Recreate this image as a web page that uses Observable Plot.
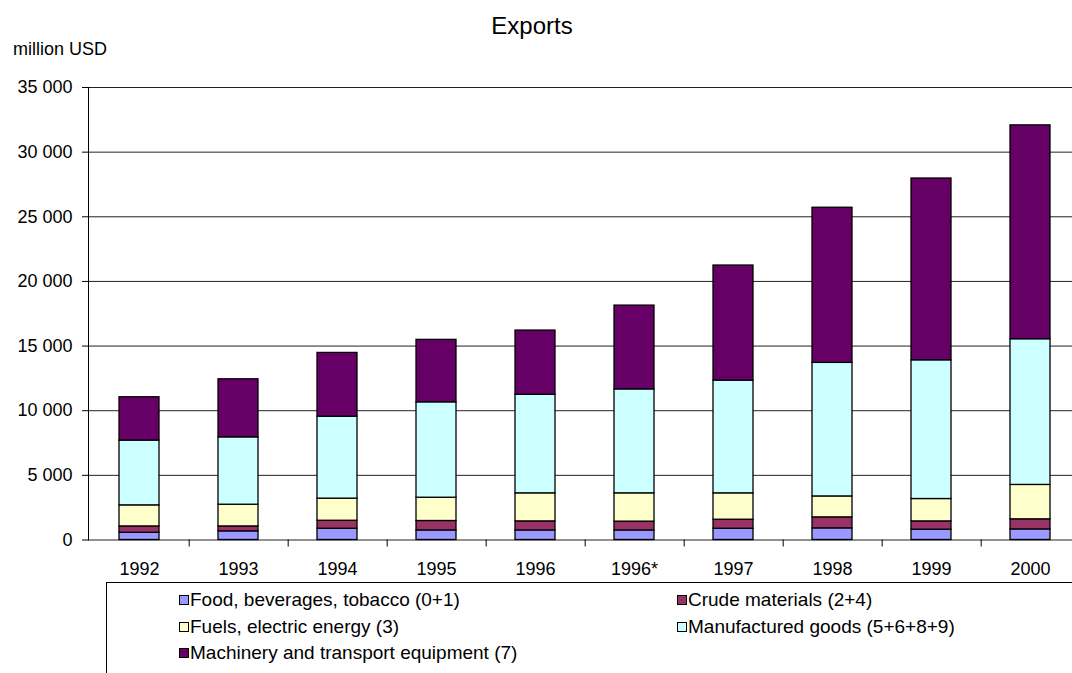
<!DOCTYPE html>
<html>
<head>
<meta charset="utf-8">
<script src="https://cdn.jsdelivr.net/npm/d3@7"></script>
<script src="https://cdn.jsdelivr.net/npm/@observablehq/plot@0.6"></script>
<style>
  body { margin: 0; background: white; }
  #wrap { position: relative; width: 1072px; height: 673px; overflow: hidden; font-family: "Liberation Sans", Arial, sans-serif; color: #000; }
  #chart { position: absolute; left: 0; top: 0; }
  #title { position: absolute; left: 432px; width: 200px; top: 12px; text-align: center; font-size: 24px; line-height: 28px; }
  #unit { position: absolute; left: 13px; top: 38px; font-size: 18px; line-height: 22px; }
  #legend { position: absolute; left: 106px; top: 582px; width: 1100px; height: 200px; border: 1px solid #000; box-sizing: border-box; }
  .item { position: absolute; font-size: 19px; line-height: 22px; white-space: nowrap; }
  .sw { position: absolute; width: 8px; height: 8px; border: 1px solid #000; top: 6px; left: -11px; }
</style>
</head>
<body>
<div id="wrap">
  <div id="chart"></div>
  <div id="title">Exports</div>
  <div id="unit">million USD</div>
  <div id="legend"></div>
</div>
<script>
const years = ["1992","1993","1994","1995","1996","1996*","1997","1998","1999","2000"];
const seriesNames = [
  "Food, beverages, tobacco (0+1)",
  "Crude materials (2+4)",
  "Fuels, electric energy (3)",
  "Manufactured goods (5+6+8+9)",
  "Machinery and transport equipment (7)"
];
const seriesColors = ["#9999FF", "#993366", "#FFFFCC", "#CCFFFF", "#660066"];
const food  = [560, 670, 870, 740, 740, 740, 870, 900, 800, 820];
const crude = [490, 380, 620, 730, 700, 680, 700, 850, 640, 780];
const fuel  = [1630, 1680, 1710, 1800, 2170, 2190, 2040, 1620, 1730, 2660];
const manuf = [5010, 5210, 6340, 7380, 7620, 8040, 8720, 10330, 10730, 11270];
const mach  = [3350, 4490, 4930, 4830, 4970, 6480, 8900, 12000, 14060, 16540];
const yTicks = [0, 5000, 10000, 15000, 20000, 25000, 30000, 35000];

const seriesValues = [food, crude, fuel, manuf, mach];
const data = [];
years.forEach((yr, i) => {
  seriesNames.forEach((s, j) => data.push({year: yr, series: s, value: seriesValues[j][i]}));
});

const xLeft = 88, xRight = 1081.5;
const step = (xRight - xLeft) / years.length;
const fmt = d => d3.format(",")(d).replace(/,/g, " ");

const chart = Plot.plot({
  width: 1072,
  height: 580,
  marginLeft: 88,
  marginRight: 0,
  marginTop: 87,
  marginBottom: 40.5,
  style: {fontFamily: "'Liberation Sans', Arial, sans-serif", fontSize: "18px", color: "#000", background: "transparent", overflow: "hidden"},
  x: {domain: years, range: [xLeft, xRight], paddingInner: 0.593, paddingOuter: 0.2965, label: null},
  y: {domain: [0, 35000], label: null},
  color: {domain: seriesNames, range: seriesColors},
  marks: [
    Plot.ruleY(yTicks, {stroke: "#222", strokeWidth: 1}),
    Plot.barY(data, {x: "year", y: "value", fill: "series", stroke: "#000", strokeWidth: 1.3}),
    Plot.frame({anchor: "left", stroke: "#000"}),
    Plot.ruleX(years, {x: d => d, dx: step / 2, y1: 0, y2: 0, insetBottom: -7, stroke: "#000"}),
    Plot.axisY(yTicks, {tickFormat: fmt, tickSize: 6, tickPadding: 10, label: null, fontSize: 18}),
    Plot.axisX({tickSize: 0, tickPadding: 22, label: null, fontSize: 18})
  ]
});
document.getElementById("chart").appendChild(chart);

// HTML legend
const legend = document.getElementById("legend");
const positions = [[83, 6], [581, 6], [83, 32.5], [581, 32.5], [83, 58.5]];
seriesNames.forEach((s, j) => {
  const it = document.createElement("div");
  it.className = "item";
  it.style.left = positions[j][0] + "px";
  it.style.top = positions[j][1] + "px";
  const sw = document.createElement("span");
  sw.className = "sw";
  sw.style.background = seriesColors[j];
  it.appendChild(sw);
  it.appendChild(document.createTextNode(s));
  legend.appendChild(it);
});
</script>
</body>
</html>
